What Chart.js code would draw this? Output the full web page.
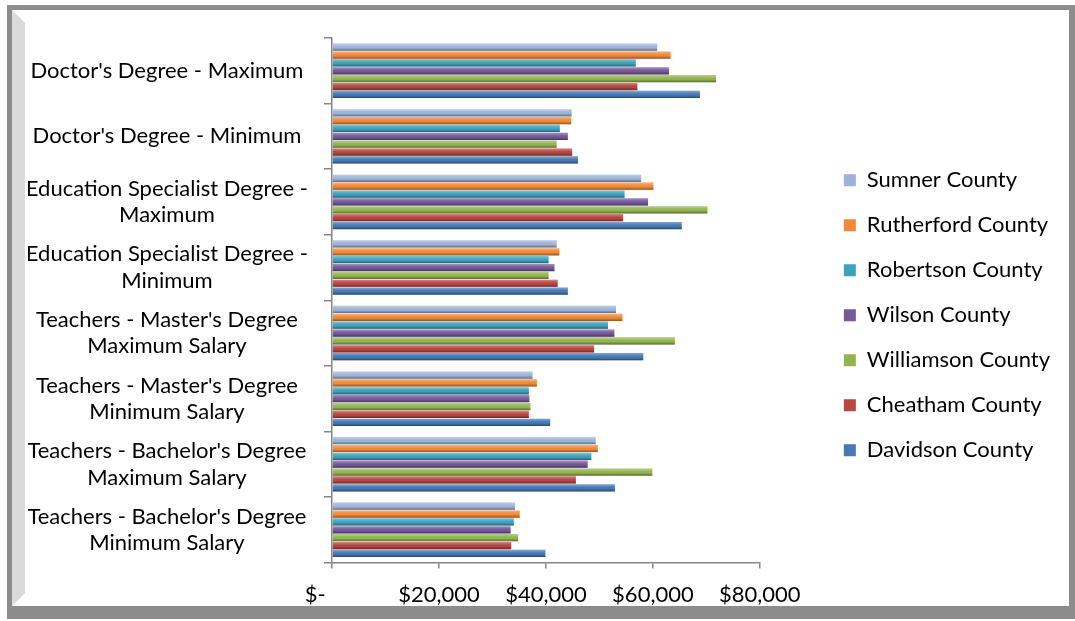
<!DOCTYPE html>
<html>
<head>
<meta charset="utf-8">
<script src="https://cdn.jsdelivr.net/npm/chart.js@4.4.1/dist/chart.umd.min.js"></script>
<style>
  body { margin: 0; background: #fff; }
  #frame { position: absolute; left: 7px; top: 5px; width: 1068px; height: 614px; background: #8c8c8c; }
  #inner { position: absolute; left: 12px; top: 10px; width: 1057px; height: 596px; background: #fff; }
  #bevel { position: absolute; left: 12px; top: 10px; width: 13px; height: 596px; background: #dadada;
           clip-path: polygon(0 0, 100% 13px, 100% calc(100% - 13px), 0 100%); }
  #mycanvas { position: absolute; left: 0; top: 0; }
</style>
</head>
<body>
<div id="frame"></div>
<div id="inner"></div>
<div id="bevel"></div>
<canvas id="mycanvas" width="1075" height="621"></canvas>
<script>
// categories, top to bottom
var categories = [
  "Doctor's Degree - Maximum",
  "Doctor's Degree - Minimum",
  ["Education Specialist Degree -", "Maximum"],
  ["Education Specialist Degree -", "Minimum"],
  ["Teachers - Master's Degree", "Maximum Salary"],
  ["Teachers - Master's Degree", "Minimum Salary"],
  ["Teachers - Bachelor's Degree", "Maximum Salary"],
  ["Teachers - Bachelor's Degree", "Minimum Salary"]
];

// salaries, same order as categories
var sumner     = [60800, 44800, 57800, 42000, 53100, 37500, 49300, 34200];
var rutherford = [63300, 44700, 60100, 42500, 54300, 38300, 49700, 35100];
var robertson  = [56800, 42600, 54700, 40500, 51600, 36800, 48500, 34000];
var wilson     = [63000, 44100, 59100, 41600, 52800, 36900, 47800, 33400];
var williamson = [71800, 42000, 70200, 40500, 64100, 37100, 59900, 34800];
var cheatham   = [57100, 44900, 54400, 42200, 49000, 36800, 45600, 33500];
var davidson   = [68800, 46000, 65400, 44100, 58200, 40800, 52900, 39900];

var xTicks = [0, 20000, 40000, 60000, 80000];

var fontName = "Lato, 'Open Sans', sans-serif";

function money(v) {
  // accounting format: the zero dash sits left of its tick
  if (v === 0) return "$-\u00a0\u00a0\u00a0\u00a0\u00a0\u00a0";
  return "$" + v.toLocaleString("en-US");
}

// light top, dark bottom on every bar, like the excel bevel
var shadeBars = {
  id: "shadeBars",
  afterDatasetsDraw: function (chart) {
    var ctx = chart.ctx;
    chart.data.datasets.forEach(function (ds, i) {
      var meta = chart.getDatasetMeta(i);
      meta.data.forEach(function (bar) {
        var top = bar.y - bar.height / 2;
        var g = ctx.createLinearGradient(0, top, 0, top + bar.height);
        g.addColorStop(0, "rgba(255,255,255,0.35)");
        g.addColorStop(0.45, "rgba(255,255,255,0)");
        g.addColorStop(0.6, "rgba(0,0,0,0)");
        g.addColorStop(1, "rgba(0,0,0,0.4)");
        ctx.save();
        ctx.fillStyle = g;
        ctx.fillRect(bar.base, top, bar.x - bar.base, bar.height);
        ctx.restore();
      });
    });
  }
};

var chartdata = {
  labels: categories,
  datasets: [
    { label: "Sumner County", data: sumner, backgroundColor: "#9fb2d8" },
    { label: "Rutherford County", data: rutherford, backgroundColor: "#f08a3a" },
    { label: "Robertson County", data: robertson, backgroundColor: "#3fa2bd" },
    { label: "Wilson County", data: wilson, backgroundColor: "#76599a" },
    { label: "Williamson County", data: williamson, backgroundColor: "#93b451" },
    { label: "Cheatham County", data: cheatham, backgroundColor: "#b94643" },
    { label: "Davidson County", data: davidson, backgroundColor: "#4679b6" }
  ]
};
chartdata.datasets.forEach(function (ds) {
  ds.borderWidth = 0;
  ds.categoryPercentage = 0.84;
  ds.barPercentage = 0.92;
});

var ctx = document.getElementById("mycanvas");
var HBar = new Chart(ctx, {
  type: "bar",
  data: chartdata,
  plugins: [shadeBars],
  options: {
    indexAxis: "y",
    responsive: false,
    animation: false,
    layout: { padding: { left: 28, top: 38, bottom: 0, right: 15 } },
    plugins: {
      tooltip: { enabled: false },
      legend: {
        position: "right",
        fullSize: false,
        // empty title only used to push the items down a little
        title: { display: true, text: " ", font: { size: 10 }, padding: { top: 9, bottom: 9 } },
        labels: {
          color: "#000",
          font: { family: fontName, size: 22 },
          boxWidth: 12,
          boxHeight: 12,
          padding: 23
        }
      }
    },
    scales: {
      x: {
        min: 0,
        max: 80000,
        afterBuildTicks: function (scale) {
          scale.ticks = xTicks.map(function (v) { return { value: v }; });
        },
        ticks: {
          color: "#000",
          font: { family: fontName, size: 22 },
          padding: 13,
          callback: function (v) { return money(v); }
        },
        grid: { drawOnChartArea: false, drawTicks: true, tickLength: 6, color: "#868686", lineWidth: 1.5 },
        border: { color: "#868686", width: 1.5 }
      },
      y: {
        afterFit: function (scale) {
          scale.width = 304;
          // two-line labels would otherwise push the plot top down
          scale.paddingTop = 0;
          scale.paddingBottom = 0;
        },
        ticks: {
          color: "#000",
          crossAlign: "center",
          font: { family: fontName, size: 22 },
          padding: 16
        },
        grid: { drawOnChartArea: false, drawTicks: true, tickLength: 8, color: "#868686", lineWidth: 1.5 },
        border: { color: "#868686", width: 1.5 }
      },
      // hidden spacer between plot and legend
      gap: {
        type: "linear",
        position: "right",
        display: false,
        afterFit: function (scale) { scale.width = 61; }
      }
    }
  }
});
</script>
</body>
</html>
